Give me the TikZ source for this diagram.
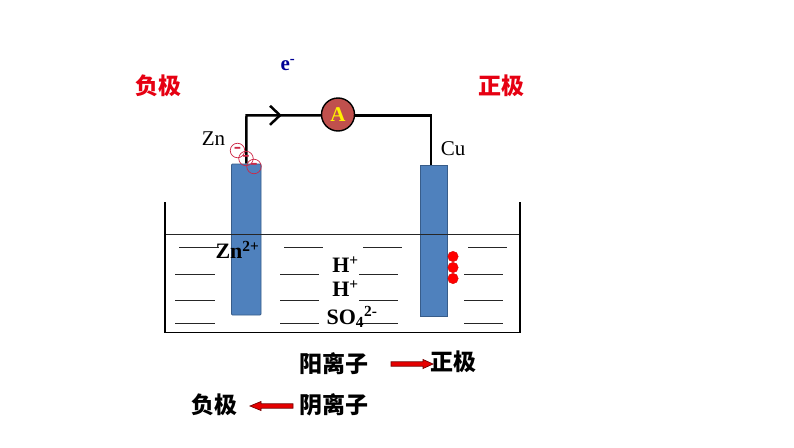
\documentclass[tikz,border=0pt]{standalone}
\usepackage{fontspec}
\setmainfont{Liberation Serif}
\newfontfamily\cjk{Noto Sans CJK SC Black}
\usetikzlibrary{arrows.meta}
\pgfdeclarelayer{behind}
\pgfsetlayers{behind,main}
\definecolor{rodblue}{RGB}{79,129,189}
\definecolor{rodedge}{RGB}{56,93,138}
\definecolor{amred}{RGB}{192,80,77}
\definecolor{navy}{RGB}{0,0,150}
\definecolor{pole}{RGB}{230,0,18}
\definecolor{crimson}{RGB}{205,40,70}
\tikzset{
  rod/.style={draw=rodedge,line width=0.8pt,fill=rodblue,minimum width=#1,inner sep=0,minimum height=151pt},
  polelabel/.style={font=\cjk\fontsize{23}{23}\selectfont,text=pole,inner sep=0},
  cnlabel/.style={font=\cjk\fontsize{23}{23}\selectfont,text=black,inner sep=0},
  ion/.style={font=\bfseries\fontsize{22}{22}\selectfont,inner sep=0},
  metal/.style={font=\fontsize{21}{21}\selectfont,inner sep=0},
  wire/.style={line width=2.5pt,line join=miter},
  dashrow/.style={line width=0.8pt,black!85},
  electron/.style={circle,draw=crimson,line width=0.7pt,minimum size=14.5pt,inner sep=0,font=\bfseries\fontsize{22}{22}\selectfont,text=crimson},
  bubble/.style={circle,fill=red,draw=red!80!black,line width=0.3pt,minimum size=10.5pt,inner sep=0},
  redarrow/.style={draw=black!55!red,line width=0.7pt,fill=red!90!black}
}
\begin{document}
\begin{tikzpicture}[x=1pt,y=-1pt]
\useasboundingbox (0,0) rectangle (794,447);
\begin{pgfonlayer}{behind}
\fill[white] (0,0) rectangle (794,447);
\end{pgfonlayer}
% rods
\node[rod=29.5pt,rounded corners=1pt] (zn) at (246.3,239.5) {};
\node[rod=27pt] (cu) at (433.5,240.5) {};
\coordinate (bl) at (165,202);
\coordinate (blb) at (165,332.5);
\coordinate (brb) at (520,332.5);
\coordinate (br) at (520,202);
\draw[line width=0.7pt,black!85] (165,234.5) -- (520,234.5);
\draw[line width=1.9pt,line join=miter] (bl) -- (blb) -- (brb) -- (br);
% solution dashes
\foreach \y/\a in {247/4,274/0,300/0,323/0}{
  \draw[dashrow] (175+\a,\y) -- (214.5+\a,\y);
  \draw[dashrow] (280+\a,\y) -- (319+\a,\y);
  \draw[dashrow] (359+\a,\y) -- (398+\a,\y);
  \draw[dashrow] (464+\a,\y) -- (503+\a,\y);
}
% circuit
\coordinate (c1) at (246.5,115.3);
\coordinate (c2) at (431,115.3);
\coordinate (cutop) at (431,165);
\node[circle,draw=black,line width=1.4pt,fill=amred,minimum size=33pt,inner sep=0,text=yellow,font=\bfseries\fontsize{21}{21}\selectfont] (am) at (338,114.5) {A};
\begin{pgfonlayer}{behind}
\draw[wire] (zn.north) -- (c1) -- (am.west |- c1);
\draw[wire] (am.east |- c2) -- (c2) -- (cutop);
\end{pgfonlayer}
\coordinate (chev) at (280,115.3);
\draw[wire] ([shift={(-10,-9.5)}]chev) -- (chev) -- ([shift={(-10,9.5)}]chev);
% electrons
\node[electron] (e1) at (237.5,150.5) {-};
\node[electron] (e2) at (246,158.5) {-};
\node[electron] (e3) at (254,166.5) {-};
% bubbles
\node[bubble] (b1) at (453,256.5) {};
\node[bubble] (b2) at (453,267.5) {};
\node[bubble] (b3) at (453,278.5) {};
% labels
\node[polelabel] (neg) at (158,86) {负极};
\node[polelabel] (pos) at (501,86) {正极};
\node[font=\bfseries\fontsize{21}{21}\selectfont,text=navy,inner sep=0] (el) at (288,65) {e\textsuperscript{-}};
\node[metal] (znl) at (213.5,138.5) {Zn};
\node[metal] (cul) at (453,148.5) {Cu};
\node[ion] (znion) at (237.5,250) {Zn\textsuperscript{2+}};
\node[ion] (h1) at (345.5,264.5) {H\textsuperscript{+}};
\node[ion] (h2) at (345.5,288.5) {H\textsuperscript{+}};
\node[ion] (so) at (352,317) {SO$_{\mathbf{4}}$\textsuperscript{2-}};
\node[cnlabel] (yang) at (334,363.5) {阳离子};
\node[cnlabel] (pos2) at (453.5,362) {正极};
\node[cnlabel] (neg2) at (214,405) {负极};
\node[cnlabel] (yin) at (334,405) {阴离子};
% arrows
\draw[redarrow] (391,361.8) -- (423,361.8) -- (423,359.5) -- (433,364) -- (423,368.5) -- (423,366.2) -- (391,366.2) -- cycle;
\draw[redarrow] (293,403.8) -- (261,403.8) -- (261,401.5) -- (250,406) -- (261,410.5) -- (261,408.2) -- (293,408.2) -- cycle;
\end{tikzpicture}
\end{document}
